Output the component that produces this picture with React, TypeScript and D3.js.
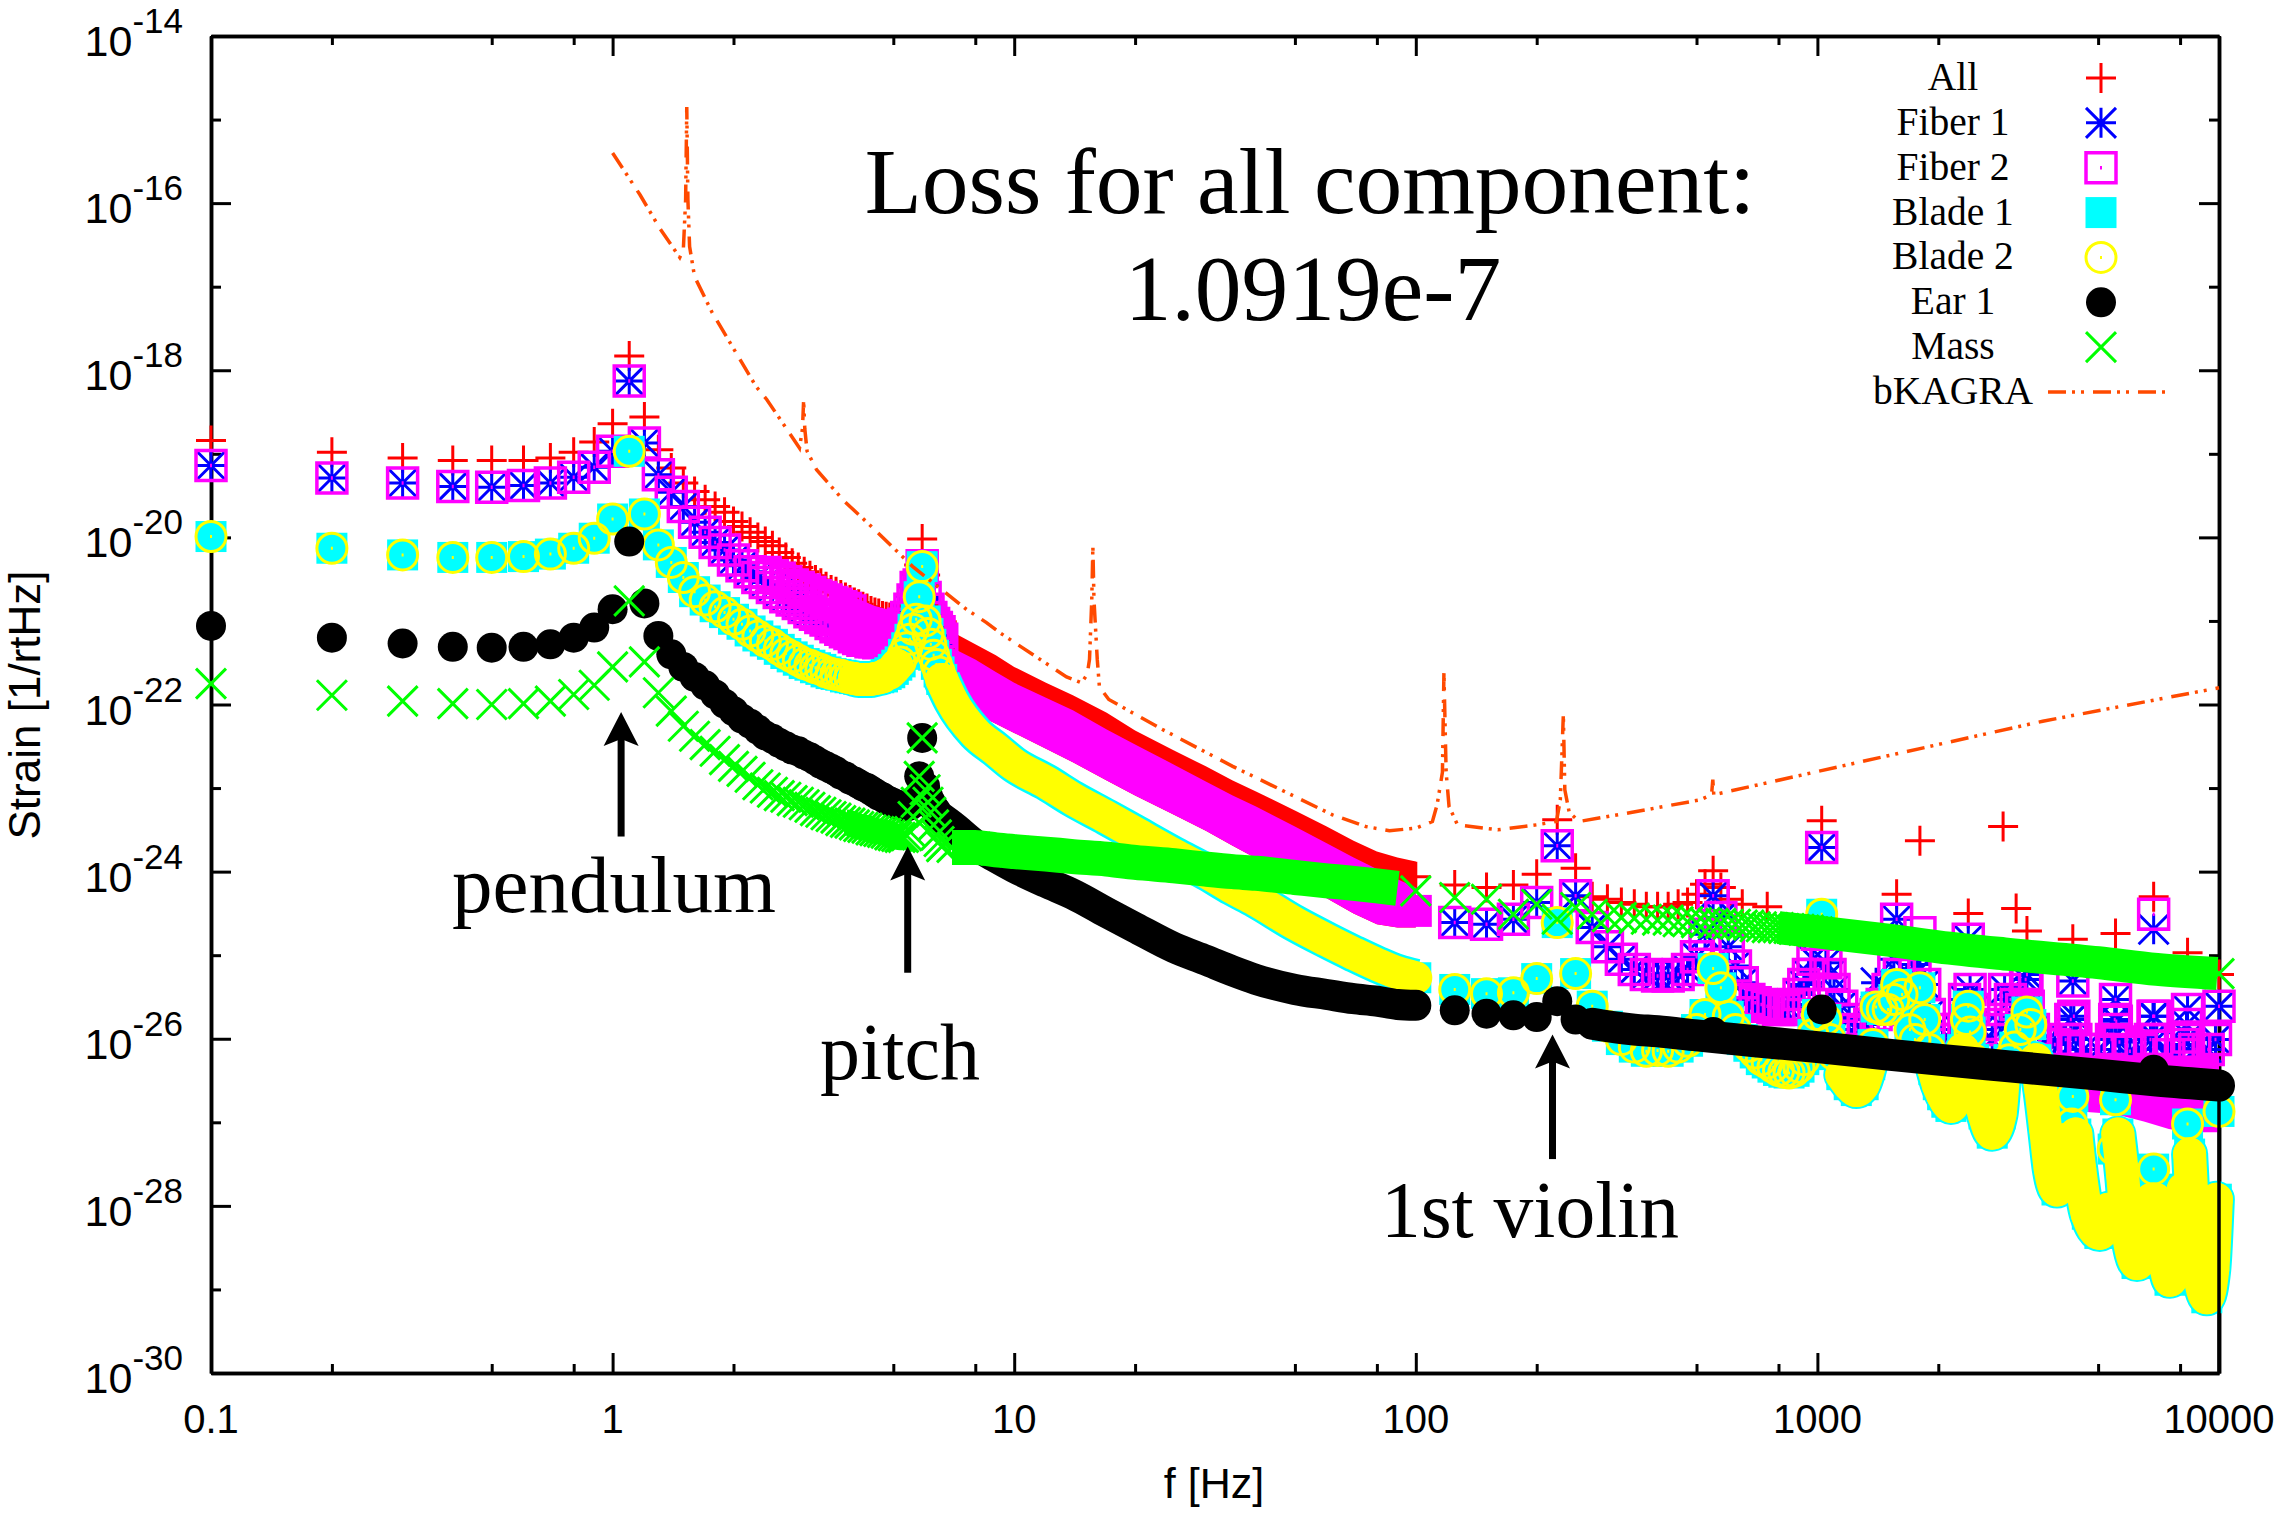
import React, { useEffect, useRef } from "react";
import * as d3 from "d3";

// all strain values are stored as log10(strain)
const lowFreqs = [
  0.1, 0.2, 0.3, 0.4, 0.5, 0.6, 0.7, 0.8, 0.9, 1.0,
  1.1, 1.2, 1.3, 1.4, 1.5, 1.6, 1.7, 1.8, 1.9, 2.0,
  2.1, 2.2, 2.3, 2.4, 2.5, 2.6, 2.7, 2.8, 2.9, 3.0,
  3.1, 3.2, 3.3, 3.4, 3.5, 3.6, 3.7, 3.8, 3.9, 4.0,
  4.1, 4.2, 4.3, 4.4, 4.5, 4.6, 4.7, 4.8, 4.9, 5.0,
  5.1, 5.2, 5.3, 5.4, 5.5, 5.6, 5.7, 5.8, 5.9, 6.0,
  6.1, 6.2, 6.3, 6.4, 6.5, 6.6,
];
const allLow = [
  -18.84, -18.98, -19.05, -19.08, -19.08, -19.08, -19.05, -18.98, -18.86, -18.64,
  -17.83, -18.56, -18.95, -19.17, -19.35, -19.45, -19.55, -19.63, -19.7, -19.81,
  -19.87, -19.94, -20.0, -20.05, -20.1, -20.18, -20.24, -20.31, -20.36, -20.41,
  -20.46, -20.51, -20.55, -20.59, -20.63, -20.65, -20.69, -20.72, -20.75, -20.78,
  -20.8, -20.83, -20.85, -20.88, -20.9, -20.91, -20.94, -20.95, -20.96, -20.97,
  -20.98, -20.96, -20.92, -20.86, -20.79, -20.69, -20.57, -20.33, -20.02, -20.45,
  -20.69, -20.79, -20.86, -20.92, -20.97, -21.01,
];
const fiberLow = [
  -19.14, -19.29, -19.35, -19.39, -19.4, -19.38, -19.35, -19.28, -19.16, -18.97,
  -18.13, -18.87, -19.25, -19.46, -19.63, -19.82, -19.94, -20.06, -20.15, -20.27,
  -20.34, -20.41, -20.48, -20.54, -20.6, -20.66, -20.71, -20.75, -20.79, -20.84,
  -20.89, -20.92, -20.96, -20.99, -21.03, -21.07, -21.1, -21.13, -21.15, -21.19,
  -21.21, -21.23, -21.23, -21.25, -21.25, -21.26, -21.25, -21.22, -21.2, -21.18,
  -21.15, -21.1, -21.04, -20.96, -20.86, -20.75, -20.6, -20.57, -20.34, -20.72,
  -20.86, -20.96, -21.03, -21.08, -21.13, -21.22,
];
const bladeLow = [
  -19.99, -20.13, -20.21, -20.24, -20.24, -20.23, -20.2, -20.13, -20.01, -19.78,
  -18.97, -19.72, -20.09, -20.3, -20.48, -20.65, -20.75, -20.83, -20.9, -20.98,
  -21.04, -21.12, -21.18, -21.24, -21.28, -21.34, -21.39, -21.43, -21.47, -21.51,
  -21.53, -21.56, -21.58, -21.61, -21.63, -21.64, -21.65, -21.67, -21.68, -21.69,
  -21.7, -21.7, -21.7, -21.7, -21.69, -21.68, -21.67, -21.64, -21.62, -21.58,
  -21.53, -21.49, -21.4, -21.32, -21.22, -21.1, -20.98, -20.71, -20.35, -21.0,
  -21.15, -21.28, -21.41, -21.52, -21.61, -21.7,
];
const earLow = [
  -21.06, -21.2, -21.27, -21.31, -21.32, -21.31, -21.28, -21.2, -21.08, -20.86,
  -20.05, -20.79, -21.18, -21.4, -21.55, -21.67, -21.77, -21.88, -21.99, -22.08,
  -22.17, -22.23, -22.3, -22.37, -22.41, -22.46, -22.5, -22.54, -22.56, -22.6,
  -22.63, -22.67, -22.71, -22.74, -22.77, -22.8, -22.84, -22.86, -22.9, -22.92,
  -22.95, -22.98, -23.0, -23.03, -23.06, -23.09, -23.11, -23.14, -23.16, -23.18,
  -23.2, -23.21, -23.22, -23.22, -23.21, -23.18, -23.14, -22.86, -22.4, -22.98,
  -23.1, -23.17, -23.23, -23.28, -23.33, -23.36,
];
const massLow = [
  -21.75, -21.89, -21.96, -21.99, -22.0, -21.99, -21.96, -21.88, -21.77, -21.55,
  -20.76, -21.49, -21.86, -22.08, -22.26, -22.38, -22.48, -22.56, -22.66, -22.74,
  -22.8, -22.87, -22.96, -23.0, -23.05, -23.09, -23.11, -23.15, -23.17, -23.2,
  -23.23, -23.27, -23.29, -23.32, -23.34, -23.36, -23.39, -23.41, -23.42, -23.44,
  -23.46, -23.47, -23.48, -23.5, -23.51, -23.52, -23.53, -23.54, -23.56, -23.57,
  -23.58, -23.59, -23.59, -23.57, -23.52, -23.34, -23.17, -22.86, -22.4, -23.02,
  -23.17, -23.29, -23.44, -23.56, -23.64, -23.7,
];

// second track of Fiber 2 boxes, where the band splits
const fiberBranchFreqs = [2.4, 2.5, 2.6, 2.7, 2.8, 2.9, 3.0, 3.1, 3.2, 3.3, 3.4, 3.5, 3.6, 3.7, 3.8, 3.9];
const fiberBranch = [-20.42, -20.46, -20.49, -20.53, -20.57, -20.6, -20.63, -20.66, -20.7, -20.72, -20.75, -20.78, -20.8, -20.83, -20.85, -20.88];

// solid magenta before the pitch peak
const fiberMidFreqs = [3.5, 3.9, 4.0, 4.25, 4.5, 4.75, 5.0, 5.3];
const fiberMidTop = [-20.6, -20.69, -20.72, -20.77, -20.82, -20.85, -20.88, -20.9];
const fiberMidBottom = [-21.2, -21.34, -21.38, -21.43, -21.44, -21.44, -21.37, -21.24];

// 6.6 Hz to 100 Hz, where the points merge into solid bands
const denseFreqs = [6.6, 7, 8, 9, 10, 12, 14, 17, 20, 25, 30, 35, 40, 50, 60, 70, 80, 90, 100];
const allBandTop = [-20.98, -21.13, -21.28, -21.41, -21.55, -21.74, -21.89, -22.1, -22.31, -22.55, -22.74, -22.91, -23.04, -23.27, -23.46, -23.63, -23.76, -23.83, -23.88];
const fiberBandTop = [-21.13, -21.32, -21.46, -21.61, -21.74, -21.92, -22.07, -22.3, -22.48, -22.72, -22.92, -23.09, -23.22, -23.46, -23.66, -23.83, -23.97, -24.09, -24.19];
const fiberBandBottom = [-21.34, -21.58, -22.11, -22.23, -22.34, -22.53, -22.69, -22.91, -23.09, -23.32, -23.51, -23.69, -23.84, -24.1, -24.32, -24.5, -24.63, -24.67, -24.67];
const bladeDense = [-21.7, -21.96, -22.34, -22.54, -22.72, -22.93, -23.13, -23.35, -23.54, -23.8, -24.0, -24.19, -24.34, -24.62, -24.82, -24.98, -25.11, -25.21, -25.27];
const earDense = [-23.36, -23.45, -23.68, -23.83, -23.95, -24.13, -24.27, -24.49, -24.67, -24.91, -25.06, -25.19, -25.29, -25.41, -25.47, -25.52, -25.55, -25.59, -25.6];
const massDense = [-23.7, -23.71, -23.71, -23.74, -23.76, -23.79, -23.82, -23.85, -23.89, -23.93, -23.97, -24.0, -24.02, -24.07, -24.11, -24.14, -24.17, -24.2, -24.23];
const allAt100 = -24.06;
const fiberAt100 = -24.47;

// above 100 Hz
const fiberHighFreqs = [
  125, 150, 175, 200, 225, 250, 275, 300, 325, 350, 375, 400, 425, 450, 475, 500, 525, 550, 575, 600,
  625, 650, 675, 700, 725, 750, 775, 800, 825, 850, 875, 900, 925, 950, 975, 1000, 1025, 1050, 1075, 1100,
  1150, 1200, 1250, 1300, 1350, 1400, 1450, 1500, 1550, 1575, 1600, 1650, 1700, 1750, 1800, 1850, 1900, 1950, 2050, 2150,
  2250, 2325, 2375, 2400, 2450, 2550, 2725, 2850, 2925, 3025, 3125, 3225, 3300, 3325, 3350, 3450, 3650, 3900, 4150, 4275,
  4325, 4350, 4400, 4600, 5000, 5400, 5500, 5525, 5550, 5650, 6000, 6400, 6750, 6850, 6875, 6900, 7000, 7500, 8100, 8300,
  8350, 8400, 8700, 9400, 9800, 10000,
];
const fiber2High = [
  -24.61, -24.63, -24.57, -24.37, -23.69, -24.29, -24.67, -24.9, -25.05, -25.17, -25.23, -25.25, -25.25, -25.23, -25.17, -25.02, -24.75, -24.29, -24.55, -24.9,
  -25.13, -25.33, -25.53, -25.57, -25.59, -25.61, -25.63, -25.65, -25.65, -25.63, -25.59, -25.47, -25.35, -25.23, -25.05, -24.75, -23.71, -25.09, -25.23, -25.41,
  -25.61, -25.77, -25.89, -25.91, -25.83, -25.71, -25.59, -25.41, -25.05, -24.57, -25.23, -25.65, -25.53, -25.11, -24.73, -25.35, -25.71, -25.89, -26.01, -26.01,
  -25.89, -25.53, -24.81, -25.41, -25.65, -25.89, -26.01, -25.83, -25.41, -25.53, -25.59, -25.65, -25.29, -25.23, -25.61, -25.89, -26.07, -26.07, -26.01, -25.77,
  -25.31, -25.73, -26.01, -26.13, -26.13, -26.01, -25.77, -25.53, -25.79, -26.04, -26.15, -26.13, -26.01, -25.73, -24.51, -25.73, -26.01, -26.19, -26.07, -25.83,
  -25.65, -25.98, -26.13, -26.13, -26.01, -25.61,
];
const fiber1High = [
  -24.61, -24.63, -24.57, -24.37, -23.69, -24.29, -24.67, -24.9, -25.05, -25.17, -25.23, -25.25, -25.25, -25.23, -25.17, -25.02, -24.75, -24.29, -24.55, -24.9,
  -25.13, -25.33, -25.53, -25.57, -25.59, -25.61, -25.63, -25.65, -25.65, -25.63, -25.59, -25.47, -25.35, -25.23, -25.05, -24.75, -23.71, -25.09, -25.23, -25.41,
  -25.61, -25.77, -25.89, -25.91, -25.83, -25.33, -25.59, -25.41, -25.05, -24.57, -25.23, -25.65, -25.53, -25.11, -25.17, -25.35, -25.71, -25.89, -26.01, -26.01,
  -25.89, -25.53, -24.81, -25.41, -25.65, -25.89, -26.01, -25.83, -25.41, -25.53, -25.59, -25.65, -25.29, -25.23, -25.61, -25.89, -26.07, -26.07, -26.01, -25.77,
  -25.31, -25.73, -26.01, -26.13, -26.13, -26.01, -25.77, -25.53, -25.79, -26.04, -26.15, -26.13, -26.01, -25.73, -24.69, -25.73, -26.01, -26.19, -26.07, -25.83,
  -25.65, -25.98, -26.13, -26.13, -26.01, -25.61,
];
const fiberFloorFreqs = [3900, 4500, 5500, 6500, 7500, 8500, 9500, 10000];
const fiberFloorTop = [-26.2, -26.2, -26.2, -26.2, -26.2, -26.2, -26.2, -26.2];
const fiberFloorBottom = [-26.78, -26.87, -26.9, -26.99, -27.08, -27.12, -27.12, -27.12];

const allHighFreqs = [
  125, 150, 175, 200, 225, 250, 275, 300, 325, 350, 375, 400, 425, 450, 475, 500, 525, 550, 575, 600,
  650, 750, 1025, 1575, 1800, 2375, 2900, 3125, 3325, 4325, 5525, 6875, 8350, 10000,
];
const allHigh = [
  -24.16, -24.19, -24.16, -24.03, -23.38, -23.96, -24.3, -24.33, -24.37, -24.39, -24.42, -24.42, -24.42, -24.39, -24.37, -24.27, -24.15, -23.99, -24.19, -24.33,
  -24.39, -24.42, -23.39, -24.27, -23.63, -24.5, -23.46, -24.44, -24.71, -24.81, -24.74, -24.3, -24.97, -25.23,
];

const bladeHighFreqs = [
  125, 150, 175, 200, 225, 250, 275, 300, 325, 350, 375, 400, 425, 450, 475, 500, 525, 550, 575, 600,
  625, 650, 675, 700, 725, 750, 775, 800, 825, 850, 875, 900, 925, 950, 975, 1000, 1025, 1050, 1075, 1100,
  1150, 1200, 1250, 1300, 1350, 1375, 1400, 1450, 1500, 1550, 1575, 1625, 1700, 1750, 1800, 1850, 1900, 1950, 2000, 2050,
  2100, 2150, 2200, 2250, 2300, 2350, 2375, 2400, 2450, 2500, 2600, 2725, 2850, 2900, 3000, 3100, 3200, 3325, 3400, 3500,
  3600, 3700, 3800, 3950, 4100, 4200, 4300, 4325, 4400, 4500, 4700, 5050, 5300, 5450, 5525, 5600, 5750, 5900, 6250, 6600,
  6800, 6875, 6950, 7200, 7550, 7900, 8150, 8350, 8450, 8600, 8900, 9325, 9650, 9850, 10000,
];
const bladeHigh = [
  -25.41, -25.46, -25.45, -25.28, -24.61, -25.22, -25.61, -25.85, -26.01, -26.1, -26.15, -26.14, -26.15, -26.1, -26.03, -25.89, -25.71, -25.16, -25.39, -25.73,
  -25.89, -26.01, -26.09, -26.17, -26.25, -26.29, -26.34, -26.38, -26.4, -26.41, -26.39, -26.34, -26.25, -26.1, -25.95, -25.71, -24.51, -25.77, -26.01, -26.19,
  -26.43, -26.55, -26.62, -26.55, -26.31, -26.07, -25.62, -25.65, -25.65, -25.53, -25.35, -25.47, -25.89, -26.01, -25.39, -25.77, -26.13, -26.37, -26.55, -26.67,
  -26.76, -26.81, -26.73, -26.43, -26.13, -25.77, -25.61, -25.92, -26.25, -26.55, -26.9, -27.13, -26.9, -26.49, -26.25, -26.1, -25.89, -25.68, -25.83, -26.25,
  -26.61, -27.08, -27.56, -27.81, -27.68, -27.2, -27.02, -26.69, -27.14, -27.56, -28.1, -28.33, -28.04, -27.32, -26.73, -27.14, -27.62, -28.22, -28.69, -28.4,
  -27.92, -27.56, -27.92, -28.4, -28.89, -28.52, -27.8, -27.02, -27.38, -28.1, -28.76, -29.1, -28.76, -27.92, -26.87,
];
// stretches where the rings pile up into solid yellow
const bladeSolidRanges = [[4.0, 5.1], [1150, 1350], [1950, 2300], [2500, 2900], [3500, 4200], [4400, 5300], [5600, 6800], [6950, 8150], [8450, 9850]];

const earHighFreqs = [125, 150, 175, 200, 225, 250, 275, 550, 1025, 6875];
const earHigh = [-25.66, -25.7, -25.72, -25.74, -25.55, -25.77, -25.82, -25.92, -25.65, -26.37];
const earBandFreqs = [275, 300, 350, 400, 500, 700, 1000, 1500, 2000, 3000, 5000, 7000, 10000];
const earBand = [-25.82, -25.85, -25.89, -25.91, -25.96, -26.03, -26.1, -26.19, -26.25, -26.33, -26.43, -26.5, -26.56];

const massHighFreqs = [
  125, 150, 175, 200, 225, 250, 275, 300, 325, 350, 375, 400, 425, 450, 475, 500, 525, 550, 575, 600,
  625, 650, 675, 700, 725, 750, 775, 800, 825, 850, 875, 900, 925, 950, 975, 1000, 10000,
];
const massHigh = [
  -24.31, -24.33, -24.51, -24.39, -24.57, -24.43, -24.51, -24.54, -24.55, -24.56, -24.57, -24.58, -24.58, -24.6, -24.6, -24.61, -24.61, -24.62, -24.62, -24.63,
  -24.63, -24.64, -24.64, -24.66, -24.66, -24.67, -24.67, -24.67, -24.68, -24.68, -24.69, -24.69, -24.7, -24.7, -24.72, -24.72, -25.22,
];
const massBandFreqs = [800, 1000, 1500, 2000, 3000, 5000, 7000, 9900];
const massBand = [-24.67, -24.72, -24.82, -24.9, -24.99, -25.09, -25.17, -25.22];

const kagraFreqs = [
  1, 1.17, 1.31, 1.47, 1.5, 1.52, 1.53, 1.54, 1.555, 1.6, 1.77, 2.28, 2.42, 2.92, 2.97, 2.99, 3.01, 3.05, 3.22, 3.78,
  4.3, 5.59, 7.6, 8.53, 9.2, 13.5, 14.7, 15.2, 15.4, 15.6, 15.7, 15.8, 16.1, 16.3, 17.2, 23, 35, 62, 75, 86,
  100, 110, 113, 116.5, 117.5, 119, 121, 127, 160, 200, 224, 229, 233, 235, 241, 255, 346, 512, 545, 549,
  552, 1575, 3640, 10000,
];
const kagra = [
  -15.4, -15.9, -16.3, -16.65, -16.56, -15.96, -14.85, -15.96, -16.52, -16.88, -17.31, -18.2, -18.35, -18.93, -18.7, -18.36, -18.7, -18.97, -19.19, -19.57,
  -19.82, -20.35, -20.86, -21.02, -21.14, -21.67, -21.74, -21.64, -21.46, -20.75, -20.11, -20.75, -21.46, -21.79, -21.94, -22.28, -22.74, -23.32, -23.46, -23.51,
  -23.48, -23.4, -23.2, -22.81, -21.62, -22.81, -23.22, -23.44, -23.5, -23.44, -23.4, -23.14, -22.12, -23.02, -23.29, -23.4, -23.29, -23.14, -23.08, -22.9,
  -23.08, -22.59, -22.2, -21.8,
];

const xMajor = [0.1, 1, 10, 100, 1000, 10000];
const xMinor = [0.2, 0.5, 0.8, 2, 5, 8, 20, 50, 80, 200, 500, 800, 2000, 5000, 8000];
const yMajorExp = [-30, -28, -26, -24, -22, -20, -18, -16, -14];
const yMinorExp = [-29, -27, -25, -23, -21, -19, -17, -15];

const legendLabels = ["All", "Fiber 1", "Fiber 2", "Blade 1", "Blade 2", "Ear 1", "Mass", "bKAGRA"];

const arrowFreqs = [1.05, 5.43, 219];
const arrowTips = [-22.09, -23.7, -25.95];
const arrowTails = [-23.58, -25.21, -27.44];

const RED = "#ff0000";
const BLUE = "#0000ff";
const MAGENTA = "#ff00ff";
const CYAN = "#00ffff";
const YELLOW = "#ffff00";
const GREEN = "#00ff00";
const ORANGE = "#ff4a00";
const SANS = "Liberation Sans, Arial, sans-serif";
const SERIF = "Liberation Serif, Times New Roman, serif";

const M = 15;
const plusPath = `M${-M} 0H${M}M0 ${-M}V${M}`;
const crossPath = `M${-M} ${-M}L${M} ${M}M${-M} ${M}L${M} ${-M}`;
const starPath = plusPath + crossPath;
const boxPath = `M-15 -15H15V15H-15ZM-1 0H1`;
const ringPath = `M-15 0A15 15 0 1 0 15 0A15 15 0 1 0 -15 0ZM-1 0H1`;
const squarePath = `M-15.5 -15.5H15.5V15.5H-15.5Z`;
const discPath = `M-15 0A15 15 0 1 0 15 0A15 15 0 1 0 -15 0Z`;

type Pt = [number, number];
const zip = (f: number[], v: number[]): Pt[] => f.map((d, i) => [d, v[i]] as Pt);

const App = () => {
  const ref = useRef<SVGSVGElement>(null);

  useEffect(() => {
    const svg = d3.select(ref.current);
    svg.selectAll("*").remove();

    const x = d3.scaleLog().domain([0.1, 10000]).range([211, 2219]);
    const yLog = d3.scaleLog().domain([1e-30, 1e-14]).range([1373, 36]);
    const y = (e: number) => yLog(Math.pow(10, e));

    // frame and ticks
    const axisG = svg.append("g");
    const yMajor = yMajorExp.map((e) => Math.pow(10, e));
    const yMinor = yMinorExp.map((e) => Math.pow(10, e));
    const frameAxis = (axis: any, vals: number[], size: number, tr: string) => {
      const g = axisG
        .append("g")
        .attr("transform", tr)
        .call(axis.tickValues(vals).tickSize(-size).tickSizeOuter(0).tickFormat(() => ""));
      g.selectAll("path").attr("stroke", "#000").attr("stroke-width", 3.5);
      g.selectAll("line").attr("stroke", "#000").attr("stroke-width", 3);
    };
    frameAxis(d3.axisBottom(x), xMajor, 20, "translate(0,1373)");
    frameAxis(d3.axisBottom(x), xMinor, 9, "translate(0,1373)");
    frameAxis(d3.axisTop(x), xMajor, 20, "translate(0,36)");
    frameAxis(d3.axisTop(x), xMinor, 9, "translate(0,36)");
    frameAxis(d3.axisLeft(yLog), yMajor, 20, "translate(211,0)");
    frameAxis(d3.axisLeft(yLog), yMinor, 10, "translate(211,0)");
    frameAxis(d3.axisRight(yLog), yMajor, 20, "translate(2219,0)");
    frameAxis(d3.axisRight(yLog), yMinor, 10, "translate(2219,0)");

    axisG
      .selectAll("text.xtick")
      .data(xMajor)
      .join("text")
      .attr("x", (d) => x(d))
      .attr("y", 1433)
      .attr("text-anchor", "middle")
      .attr("font-family", SANS)
      .attr("font-size", 40)
      .text((d) => String(d));

    yMajorExp.forEach((e) => {
      const t = axisG
        .append("text")
        .attr("x", 183)
        .attr("y", y(e) + 20)
        .attr("text-anchor", "end")
        .attr("font-family", SANS)
        .attr("font-size", 43);
      t.append("tspan").text("10");
      t.append("tspan").attr("dy", -23).attr("font-size", 35).text(String(e));
    });

    axisG
      .append("text")
      .attr("x", 1214)
      .attr("y", 1498)
      .attr("text-anchor", "middle")
      .attr("font-family", SANS)
      .attr("font-size", 43)
      .text("f [Hz]");
    axisG
      .append("text")
      .attr("transform", "translate(40,705) rotate(-90)")
      .attr("text-anchor", "middle")
      .attr("font-family", SANS)
      .attr("font-size", 44)
      .text("Strain [1/rtHz]");

    const plot = svg.append("g");

    const markers = (pts: Pt[], d: string, fill: string, stroke: string, sw: number) => {
      plot
        .append("g")
        .selectAll("path")
        .data(pts)
        .join("path")
        .attr("transform", (p) => `translate(${x(p[0])},${y(p[1])})`)
        .attr("d", d)
        .attr("fill", fill)
        .attr("stroke", stroke)
        .attr("stroke-width", sw);
    };
    const band = (f: number[], top: number[], bottom: number[], fill: string) => {
      const area = d3
        .area<number>()
        .x((d) => x(d))
        .y0((_, i) => y(bottom[i]))
        .y1((_, i) => y(top[i]));
      plot.append("path").attr("d", area(f)).attr("fill", fill);
    };
    const thick = (pts: Pt[], color: string, w: number, cap: string) => {
      const line = d3
        .line<Pt>()
        .x((p) => x(p[0]))
        .y((p) => y(p[1]))
        .curve(d3.curveMonotoneX);
      plot
        .append("path")
        .attr("d", line(pts))
        .attr("fill", "none")
        .attr("stroke", color)
        .attr("stroke-width", w)
        .attr("stroke-linecap", cap)
        .attr("stroke-linejoin", "round");
    };

    const bladeAll = [...zip(lowFreqs, bladeLow), ...zip(bladeHighFreqs, bladeHigh)];
    const bladeDensePts = zip(denseFreqs, bladeDense);
    const solid = bladeSolidRanges.map((r) => bladeAll.filter((p) => p[0] >= r[0] && p[0] <= r[1]));

    // All
    band(denseFreqs, allBandTop, fiberBandBottom, RED);
    markers(zip(lowFreqs, allLow), plusPath, "none", RED, 3);
    markers(zip(allHighFreqs, allHigh), plusPath, "none", RED, 3);
    markers([[100, allAt100]], plusPath, "none", RED, 3);

    // Fiber 1
    markers(zip(lowFreqs, fiberLow), starPath, "none", BLUE, 3);
    markers(zip(fiberHighFreqs, fiber1High), starPath, "none", BLUE, 3);

    // Fiber 2
    band(fiberMidFreqs, fiberMidTop, fiberMidBottom, MAGENTA);
    band(denseFreqs, fiberBandTop, fiberBandBottom, MAGENTA);
    band(fiberFloorFreqs, fiberFloorTop, fiberFloorBottom, MAGENTA);
    plot
      .append("rect")
      .attr("x", x(100) - 16)
      .attr("width", 32)
      .attr("y", y(fiberAt100) - 16)
      .attr("height", 32)
      .attr("fill", MAGENTA);
    markers(zip(lowFreqs, fiberLow), boxPath, "none", MAGENTA, 3.5);
    markers(zip(fiberBranchFreqs, fiberBranch), boxPath, "none", MAGENTA, 3.5);
    markers(zip(fiberHighFreqs, fiber2High), boxPath, "none", MAGENTA, 3.5);

    // Blade 1
    markers(bladeAll, squarePath, CYAN, "none", 0);
    thick(bladeDensePts, CYAN, 38, "butt");
    markers([bladeDensePts[bladeDensePts.length - 1]], squarePath, CYAN, "none", 0);
    solid.forEach((s) => thick(s, CYAN, 37, "round"));

    // Blade 2
    markers(bladeAll, ringPath, "none", YELLOW, 3);
    thick(bladeDensePts, YELLOW, 33, "round");
    solid.forEach((s) => thick(s, YELLOW, 33, "round"));

    // right edge stays visible over the yellow rings
    plot
      .append("line")
      .attr("x1", x(10000))
      .attr("x2", x(10000))
      .attr("y1", y(-26.5))
      .attr("y2", y(-30))
      .attr("stroke", "#000")
      .attr("stroke-width", 3.5);

    // Ear 1
    markers(zip(lowFreqs, earLow), discPath, "#000", "none", 0);
    markers(zip(earHighFreqs, earHigh), discPath, "#000", "none", 0);
    thick(zip(denseFreqs, earDense), "#000", 31, "round");
    thick(zip(earBandFreqs, earBand), "#000", 32, "round");

    // Mass
    markers(zip(lowFreqs, massLow), crossPath, "none", GREEN, 3);
    markers(zip(massHighFreqs, massHigh), crossPath, "none", GREEN, 3);
    markers(zip(denseFreqs, massDense).filter((p) => p[0] <= 10 || p[0] === 100), crossPath, "none", GREEN, 3);
    thick(zip(lowFreqs, massLow).filter((p) => p[0] >= 3.8 && p[0] <= 5.3), GREEN, 26, "butt");
    thick(zip(denseFreqs.slice(1, -1), massDense.slice(1, -1)), GREEN, 35, "butt");
    thick(zip(massBandFreqs, massBand), GREEN, 33, "butt");

    // bKAGRA
    const kagraLine = d3
      .line<Pt>()
      .x((p) => x(p[0]))
      .y((p) => y(p[1]));
    plot
      .append("path")
      .attr("d", kagraLine(zip(kagraFreqs, kagra)))
      .attr("fill", "none")
      .attr("stroke", ORANGE)
      .attr("stroke-width", 3.5)
      .attr("stroke-dasharray", "18 6 3 6 3 9");

    // annotations
    const note = svg.append("g").attr("font-family", SERIF).attr("fill", "#000");
    const noteText = (t: string, cx: number, by: number, size: number) =>
      note.append("text").attr("x", cx).attr("y", by).attr("text-anchor", "middle").attr("font-size", size).text(t);
    noteText("Loss for all component:", 1310, 213, 93.5);
    noteText("1.0919e-7", 1313, 320, 93.5);
    noteText("pendulum", 614, 912, 81);
    noteText("pitch", 900, 1079, 80);
    noteText("1st violin", 1530, 1237, 79.5);

    arrowFreqs.forEach((f, i) => {
      const ax = x(f);
      const tip = y(arrowTips[i]);
      const tail = y(arrowTails[i]);
      note
        .append("line")
        .attr("x1", ax)
        .attr("x2", ax)
        .attr("y1", tip + 20)
        .attr("y2", tail)
        .attr("stroke", "#000")
        .attr("stroke-width", 7);
      note
        .append("path")
        .attr("d", `M${ax} ${tip}L${ax + 17.5} ${tip + 34}L${ax} ${tip + 27}L${ax - 17.5} ${tip + 34}Z`)
        .attr("fill", "#000");
    });

    // legend
    const legend = svg.append("g");
    const rowY = d3.scaleLinear().domain([0, 7]).range([78, 392]);
    legendLabels.forEach((label, i) => {
      legend
        .append("text")
        .attr("x", 1953)
        .attr("y", rowY(i) + 12)
        .attr("text-anchor", "middle")
        .attr("font-family", SERIF)
        .attr("font-size", 39.5)
        .text(label);
    });
    const legendMark = (i: number, d: string, fill: string, stroke: string, sw: number) =>
      legend
        .append("path")
        .attr("transform", `translate(2101,${rowY(i)})`)
        .attr("d", d)
        .attr("fill", fill)
        .attr("stroke", stroke)
        .attr("stroke-width", sw);
    legendMark(0, plusPath, "none", RED, 3);
    legendMark(1, starPath, "none", BLUE, 3);
    legendMark(2, boxPath, "none", MAGENTA, 3.5);
    legendMark(3, squarePath, CYAN, "none", 0);
    legendMark(4, ringPath, "none", YELLOW, 3);
    legendMark(5, discPath, "#000", "none", 0);
    legendMark(6, crossPath, "none", GREEN, 3);
    legend
      .append("line")
      .attr("x1", 2048)
      .attr("x2", 2166)
      .attr("y1", rowY(7))
      .attr("y2", rowY(7))
      .attr("stroke", ORANGE)
      .attr("stroke-width", 3.5)
      .attr("stroke-dasharray", "18 6 3 6 3 9");
  }, []);

  return <svg ref={ref} width={2288} height={1514} style={{ position: "absolute", left: 0, top: 0, background: "#fff" }} />;
};

export default App;
